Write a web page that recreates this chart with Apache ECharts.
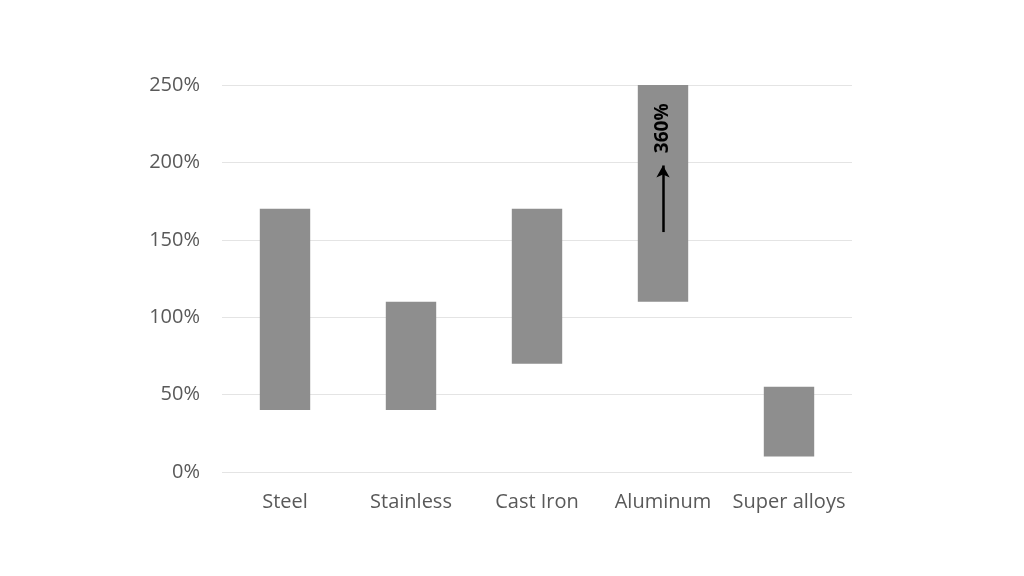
<!DOCTYPE html>
<html>
<head>
<meta charset="utf-8">
<script src="https://cdn.jsdelivr.net/npm/echarts@6/dist/echarts.min.js"></script>
<style>
  html,body{margin:0;padding:0;background:#fff;}
  #chart{width:1024px;height:576px;}
</style>
</head>
<body>
<div id="chart"></div>
<script>
// 材料及范围数据（百分比）
var categories = ['Steel', 'Stainless', 'Cast Iron', 'Aluminum', 'Super alloys'];
var lowValues = [40, 40, 70, 110, 10];
var highValues = [170, 110, 170, 250, 55];
var yTicks = [0, 50, 100, 150, 200, 250];
// 铝的真实上限（图中截断在250%）
var aluminumTrue = '360%';
var arrowFrom = 155, arrowTo = 198, noteAt = 222;

(function(){
    var myChart = echarts.init(document.getElementById('chart'));
    var rangeValues = highValues.map(function(h, i){ return h - lowValues[i]; });
    var font = '"Open Sans", "DejaVu Sans", sans-serif';
    var option = {
        animation: false,
        grid: { left: 222, right: 172, top: 85, bottom: 104, containLabel: false },
        xAxis: {
            type: 'category',
            data: categories,
            axisLine: { show: false },
            axisTick: { show: false },
            axisLabel: { interval: 0, color: '#595959', fontSize: 20, fontFamily: font, margin: 20 }
        },
        yAxis: {
            type: 'value',
            min: yTicks[0],
            max: yTicks[yTicks.length - 1],
            interval: 50,
            axisLine: { show: false },
            axisTick: { show: false },
            axisLabel: { color: '#595959', fontSize: 20, fontFamily: font, margin: 22, formatter: '{value}%' },
            splitLine: { lineStyle: { color: '#e4e4e4', width: 1 } }
        },
        series: [
            {
                // 透明底座
                type: 'bar',
                stack: 'r',
                data: lowValues,
                barWidth: '40%',
                itemStyle: { color: 'transparent' },
                silent: true,
                markLine: {
                    silent: true,
                    symbol: ['none', 'arrow'],
                    symbolSize: [10, 12],
                    lineStyle: { color: '#000', width: 2.5, type: 'solid' },
                    label: { show: false },
                    data: [[
                        { coord: ['Aluminum', arrowFrom] },
                        { coord: ['Aluminum', arrowTo] }
                    ]]
                },
                markPoint: {
                    symbol: 'rect',
                    symbolSize: 1,
                    itemStyle: { color: 'transparent' },
                    label: {
                        show: true,
                        formatter: aluminumTrue,
                        rotate: 90,
                        color: '#000',
                        fontWeight: 'bold',
                        fontSize: 19,
                        fontFamily: font,
                        position: 'inside'
                    },
                    data: [{ coord: ['Aluminum', noteAt] }]
                }
            },
            {
                type: 'bar',
                stack: 'r',
                data: rangeValues,
                barWidth: '40%',
                itemStyle: { color: '#8e8e8e' }
            }
        ]
    };
    myChart.setOption(option);
})();
</script>
</body>
</html>
